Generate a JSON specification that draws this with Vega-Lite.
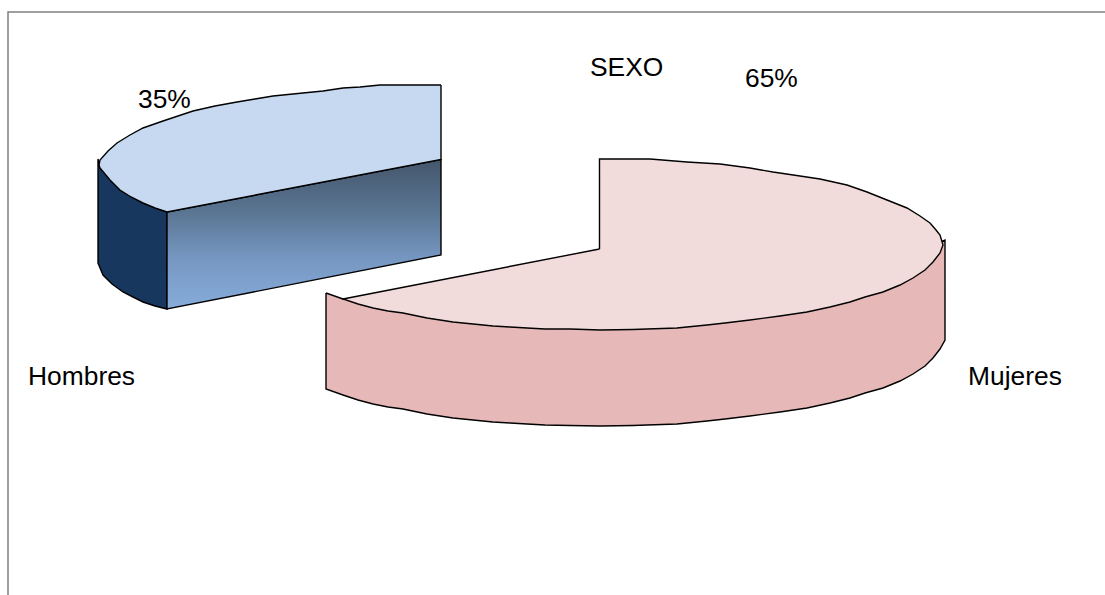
{"$schema":"https://vega.github.io/schema/vega-lite/v6.json","width":1105,"height":595,"padding":0,"autosize":"none","background":"white","view":{"stroke":null},
"datasets":{"outline":[
{"s":"hside","i":1,"x":98,"y":159},{"s":"hside","i":2,"x":98,"y":263},{"s":"hside","i":3,"x":103,"y":275},{"s":"hside","i":4,"x":112,"y":284},{"s":"hside","i":5,"x":123,"y":292},{"s":"hside","i":6,"x":133,"y":297},{"s":"hside","i":7,"x":143,"y":302},{"s":"hside","i":8,"x":155,"y":306},{"s":"hside","i":9,"x":167,"y":309},{"s":"hside","i":10,"x":167,"y":212},{"s":"hside","i":11,"x":143,"y":203},{"s":"hside","i":12,"x":120,"y":190},{"s":"hside","i":13,"x":100,"y":168},{"s":"hside","i":14,"x":98,"y":159},
{"s":"hface","i":1,"x":167,"y":212},{"s":"hface","i":2,"x":441,"y":159.5},{"s":"hface","i":3,"x":441,"y":255},{"s":"hface","i":4,"x":167,"y":309},{"s":"hface","i":5,"x":167,"y":212},
{"s":"htop","i":1,"x":441,"y":85},{"s":"htop","i":2,"x":380,"y":85},{"s":"htop","i":3,"x":360,"y":87},{"s":"htop","i":4,"x":343,"y":88},{"s":"htop","i":5,"x":323,"y":91},{"s":"htop","i":6,"x":303,"y":93},{"s":"htop","i":7,"x":273,"y":96},{"s":"htop","i":8,"x":255,"y":99},{"s":"htop","i":9,"x":237,"y":102},{"s":"htop","i":10,"x":215,"y":106},{"s":"htop","i":11,"x":193,"y":111},{"s":"htop","i":12,"x":178,"y":116},{"s":"htop","i":13,"x":163,"y":121},{"s":"htop","i":14,"x":143,"y":128},{"s":"htop","i":15,"x":130,"y":135},{"s":"htop","i":16,"x":117,"y":143},{"s":"htop","i":17,"x":108,"y":151},{"s":"htop","i":18,"x":100,"y":160},{"s":"htop","i":19,"x":99,"y":165},{"s":"htop","i":20,"x":100,"y":168},{"s":"htop","i":21,"x":110,"y":180},{"s":"htop","i":22,"x":120,"y":190},{"s":"htop","i":23,"x":131,"y":197},{"s":"htop","i":24,"x":143,"y":203},{"s":"htop","i":25,"x":155,"y":208},{"s":"htop","i":26,"x":167,"y":212},{"s":"htop","i":27,"x":441,"y":159.5},{"s":"htop","i":28,"x":441,"y":85},
{"s":"mside","i":1,"x":326,"y":293},{"s":"mside","i":2,"x":326,"y":389},{"s":"mside","i":3,"x":343,"y":395},{"s":"mside","i":4,"x":358,"y":400},{"s":"mside","i":5,"x":373,"y":404},{"s":"mside","i":6,"x":388,"y":407},{"s":"mside","i":7,"x":403,"y":409},{"s":"mside","i":8,"x":415,"y":411.5},{"s":"mside","i":9,"x":427,"y":414},{"s":"mside","i":10,"x":440,"y":416},{"s":"mside","i":11,"x":453,"y":418},{"s":"mside","i":12,"x":473,"y":420},{"s":"mside","i":13,"x":493,"y":422},{"s":"mside","i":14,"x":510,"y":423},{"s":"mside","i":15,"x":527,"y":424},{"s":"mside","i":16,"x":545,"y":425},{"s":"mside","i":17,"x":570,"y":425.5},{"s":"mside","i":18,"x":600,"y":426},{"s":"mside","i":19,"x":633,"y":425.5},{"s":"mside","i":20,"x":647,"y":425},{"s":"mside","i":21,"x":677,"y":424},{"s":"mside","i":22,"x":707,"y":421},{"s":"mside","i":23,"x":725,"y":419},{"s":"mside","i":24,"x":750,"y":416},{"s":"mside","i":25,"x":780,"y":412},{"s":"mside","i":26,"x":807,"y":408},{"s":"mside","i":27,"x":830,"y":403},{"s":"mside","i":28,"x":850,"y":398},{"s":"mside","i":29,"x":865,"y":393},{"s":"mside","i":30,"x":883,"y":388},{"s":"mside","i":31,"x":900,"y":381},{"s":"mside","i":32,"x":913,"y":374},{"s":"mside","i":33,"x":925,"y":366},{"s":"mside","i":34,"x":933,"y":358},{"s":"mside","i":35,"x":940,"y":349},{"s":"mside","i":36,"x":945,"y":340},{"s":"mside","i":37,"x":945,"y":240},{"s":"mside","i":38,"x":850,"y":280},{"s":"mside","i":39,"x":343,"y":299},{"s":"mside","i":40,"x":326,"y":293},
{"s":"mtop","i":1,"x":599.5,"y":249},{"s":"mtop","i":2,"x":599.5,"y":159},{"s":"mtop","i":3,"x":650,"y":159},{"s":"mtop","i":4,"x":687,"y":162},{"s":"mtop","i":5,"x":720,"y":164},{"s":"mtop","i":6,"x":750,"y":168},{"s":"mtop","i":7,"x":773,"y":172},{"s":"mtop","i":8,"x":800,"y":176},{"s":"mtop","i":9,"x":820,"y":179},{"s":"mtop","i":10,"x":847,"y":185},{"s":"mtop","i":11,"x":867,"y":192},{"s":"mtop","i":12,"x":887,"y":200},{"s":"mtop","i":13,"x":907,"y":208},{"s":"mtop","i":14,"x":920,"y":216},{"s":"mtop","i":15,"x":930,"y":223},{"s":"mtop","i":16,"x":936,"y":230},{"s":"mtop","i":17,"x":940,"y":235},{"s":"mtop","i":18,"x":943,"y":245},{"s":"mtop","i":19,"x":940,"y":253},{"s":"mtop","i":20,"x":933,"y":262},{"s":"mtop","i":21,"x":925,"y":270},{"s":"mtop","i":22,"x":913,"y":278},{"s":"mtop","i":23,"x":900,"y":285},{"s":"mtop","i":24,"x":883,"y":292},{"s":"mtop","i":25,"x":865,"y":297},{"s":"mtop","i":26,"x":850,"y":302},{"s":"mtop","i":27,"x":830,"y":307},{"s":"mtop","i":28,"x":807,"y":312},{"s":"mtop","i":29,"x":780,"y":316},{"s":"mtop","i":30,"x":750,"y":320},{"s":"mtop","i":31,"x":725,"y":323},{"s":"mtop","i":32,"x":707,"y":325},{"s":"mtop","i":33,"x":677,"y":328},{"s":"mtop","i":34,"x":647,"y":329},{"s":"mtop","i":35,"x":633,"y":329.5},{"s":"mtop","i":36,"x":600,"y":330},{"s":"mtop","i":37,"x":570,"y":329},{"s":"mtop","i":38,"x":545,"y":329},{"s":"mtop","i":39,"x":527,"y":328},{"s":"mtop","i":40,"x":510,"y":327},{"s":"mtop","i":41,"x":493,"y":326},{"s":"mtop","i":42,"x":473,"y":324},{"s":"mtop","i":43,"x":453,"y":322},{"s":"mtop","i":44,"x":440,"y":320},{"s":"mtop","i":45,"x":427,"y":318},{"s":"mtop","i":46,"x":415,"y":315.5},{"s":"mtop","i":47,"x":403,"y":313},{"s":"mtop","i":48,"x":388,"y":311},{"s":"mtop","i":49,"x":373,"y":308},{"s":"mtop","i":50,"x":358,"y":304},{"s":"mtop","i":51,"x":343,"y":299},{"s":"mtop","i":52,"x":599.5,"y":249},
{"s":"frame","i":1,"x":8,"y":595},{"s":"frame","i":2,"x":8,"y":12},{"s":"frame","i":3,"x":1105,"y":12}
],"labels":[{"t":"SEXO","x":590,"y":76},{"t":"35%","x":138,"y":108},{"t":"65%","x":745,"y":87},{"t":"Hombres","x":28,"y":385},{"t":"Mujeres","x":968,"y":385}]},
"layer":[
{"data":{"name":"outline"},"transform":[{"filter":"datum.s=='hside'"}],"mark":{"type":"line","fill":"#17375e","stroke":"#000","strokeWidth":1.4},"encoding":{"x":{"field":"x","type":"quantitative","scale":{"domain":[0,1105],"nice":false,"zero":false},"axis":null},"y":{"field":"y","type":"quantitative","scale":{"domain":[595,0],"nice":false,"zero":false},"axis":null},"order":{"field":"i"}}},
{"data":{"name":"outline"},"transform":[{"filter":"datum.s=='hface'"}],"mark":{"type":"line","fill":{"gradient":"linear","x1":0,"y1":0,"x2":0,"y2":1,"stops":[{"offset":0,"color":"#44566c"},{"offset":0.35,"color":"#5a7592"},{"offset":0.65,"color":"#7596c0"},{"offset":1,"color":"#87acdb"}]},"stroke":"#000","strokeWidth":1.4},"encoding":{"x":{"field":"x","type":"quantitative","axis":null},"y":{"field":"y","type":"quantitative","axis":null},"order":{"field":"i"}}},
{"data":{"name":"outline"},"transform":[{"filter":"datum.s=='htop'"}],"mark":{"type":"line","fill":"#c6d9f1","stroke":"#000","strokeWidth":1.4},"encoding":{"x":{"field":"x","type":"quantitative","axis":null},"y":{"field":"y","type":"quantitative","axis":null},"order":{"field":"i"}}},
{"data":{"name":"outline"},"transform":[{"filter":"datum.s=='mside'"}],"mark":{"type":"line","fill":"#e6b9b8","stroke":"#000","strokeWidth":1.4},"encoding":{"x":{"field":"x","type":"quantitative","axis":null},"y":{"field":"y","type":"quantitative","axis":null},"order":{"field":"i"}}},
{"data":{"name":"outline"},"transform":[{"filter":"datum.s=='mtop'"}],"mark":{"type":"line","fill":"#f2dcdb","stroke":"#000","strokeWidth":1.4},"encoding":{"x":{"field":"x","type":"quantitative","axis":null},"y":{"field":"y","type":"quantitative","axis":null},"order":{"field":"i"}}},
{"data":{"name":"outline"},"transform":[{"filter":"datum.s=='frame'"}],"mark":{"type":"line","stroke":"#808080","strokeWidth":1.5},"encoding":{"x":{"field":"x","type":"quantitative","axis":null},"y":{"field":"y","type":"quantitative","axis":null},"order":{"field":"i"}}},
{"data":{"name":"labels"},"mark":{"type":"text","font":"Liberation Sans","fontSize":26.4,"align":"left","baseline":"alphabetic","color":"#000"},"encoding":{"x":{"field":"x","type":"quantitative","axis":null},"y":{"field":"y","type":"quantitative","axis":null},"text":{"field":"t"}}}
]}
